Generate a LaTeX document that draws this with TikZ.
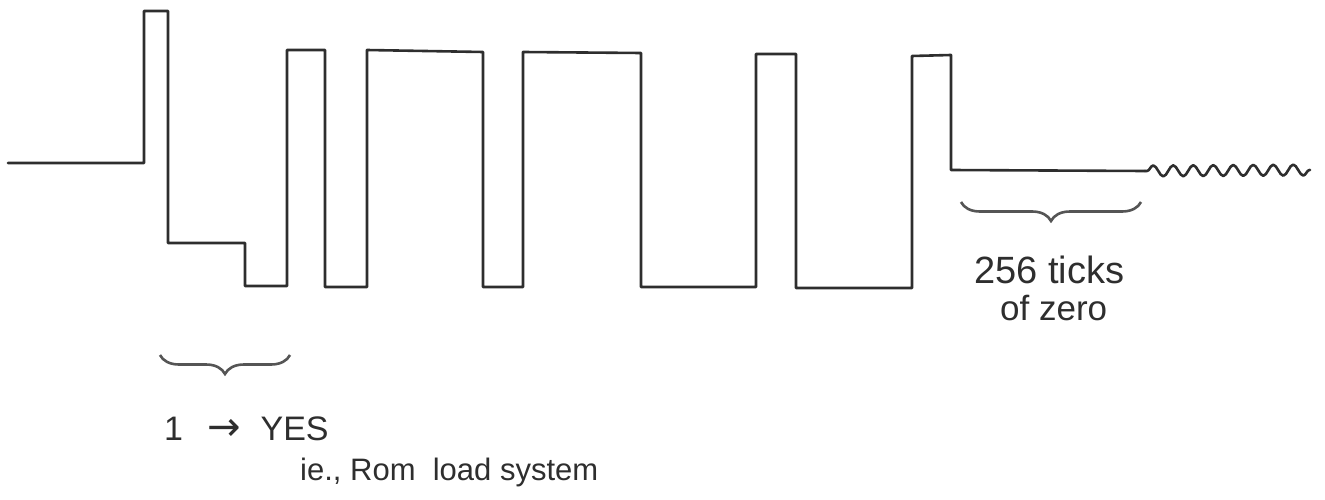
\documentclass[tikz,border=0pt]{standalone}
\usepackage{fontspec}
\setmainfont{Liberation Sans}
\newfontfamily\arrowfont{DejaVu Sans}
\usetikzlibrary{decorations.pathmorphing,decorations.pathreplacing}
\definecolor{ink}{HTML}{2E2E2E}
\definecolor{bink}{HTML}{555555}
\begin{document}
\begin{tikzpicture}[x=1pt,y=-1pt,
  wave/.style={draw=ink,line width=2.6pt,line join=round,line cap=round},
  bracestyle/.style={draw=bink,line width=2.6pt,decorate,decoration={brace,mirror,amplitude=19pt}},
  hand/.style={text=ink,inner sep=0pt,anchor=base west}]
\useasboundingbox (0,0) rectangle (1325,500);
% waveform
\draw[wave] (8,163) -- (144,163) -- (144,11) -- (168,11) -- (168,243) -- (245,243)
  -- (245,286) -- (287,286) -- (287,50) -- (325,50) -- (325,287) -- (367,287)
  -- (367,50) -- (483,52) -- (483,287) -- (523,287) -- (523,52) -- (641,53)
  -- (641,287) -- (756,287) -- (756,54) -- (796,54) -- (796,288) -- (912,288)
  -- (912,56) -- (951,55) -- (951,170) -- (1145,171) coordinate (z);
\draw[wave,decorate,decoration={snake,amplitude=5.5pt,segment length=20pt,pre length=2pt}] (z) -- (1310,170);
% braces
\draw[bracestyle] (160,355) -- (290,355);
\draw[bracestyle] (961,202) -- (1141,202);
% labels
\node[hand,font=\fontsize{34}{40}\selectfont] (yes) at (164,440) {1\hspace{24pt}{\arrowfont\fontsize{40}{40}\selectfont →}\hspace{20pt}YES};
\node[hand,font=\fontsize{31}{36}\selectfont] (rom) at (300,480) {ie., Rom\ \ load system};
\node[hand,font=\fontsize{38}{44}\selectfont] (ticks) at (974,283) {256 ticks};
\node[hand,font=\fontsize{35}{40}\selectfont] (zero) at (1000,320) {of zero};
\end{tikzpicture}
\end{document}
